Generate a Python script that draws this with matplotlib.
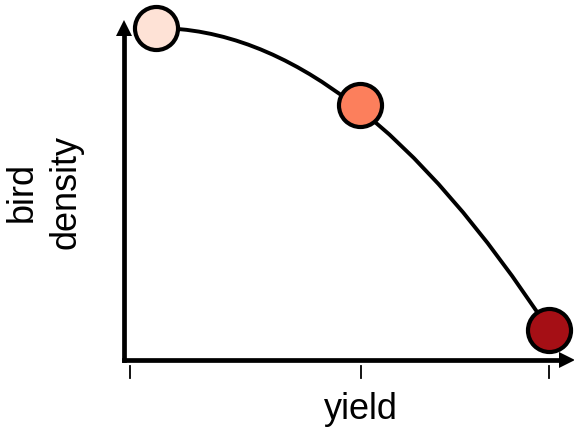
import matplotlib.pyplot as plt
from matplotlib.path import Path
from matplotlib.patches import PathPatch

# three scenarios along the frontier (yield, bird density), normalised 0..1
yield_vals = [0.0, 0.52, 1.0]
density_vals = [1.0, 0.745, 0.0]
point_colors = ['#fee2d6', '#fc7f5c', '#a50f15']
# control point of the quadratic frontier curve
ctrl = (0.5, 1.0)
tick_pos = [-0.066, 0.522, 1.0]

fig = plt.figure(figsize=(5.74, 4.31), dpi=100)
ax = fig.add_axes([0, 0, 1, 1])
# 0 -> pixel 156 / 549 in x, 1 -> pixel 29 / 331 in y
ax.set_xlim(-156 / 393, (574 - 156) / 393)
ax.set_ylim(-(431 - 331) / 302, 331 / 302)
ax.axis('off')

x0 = -32 / 393   # y axis position
y0 = -30 / 302   # x axis position

# axes with arrow heads
ax.plot([x0, x0], [y0, 1.0], color='black', lw=3.4, solid_capstyle='projecting')
ax.plot([x0, 1.03], [y0, y0], color='black', lw=3.4, solid_capstyle='projecting')
ax.plot(x0, 1.0, marker='^', color='black', ms=12, markeredgewidth=0)
ax.plot(1.045, y0, marker='>', color='black', ms=12, markeredgewidth=0)

# ticks below x axis
for t in tick_pos:
    ax.plot([t, t], [y0 - 6 / 302, y0 - 18 / 302], color='black', lw=1.3)

# frontier curve
verts = [(yield_vals[0], density_vals[0]), ctrl, (yield_vals[-1], density_vals[-1])]
path = Path(verts, [Path.MOVETO, Path.CURVE3, Path.CURVE3])
ax.add_patch(PathPatch(path, facecolor='none', edgecolor='black', lw=2.8))

for xv, yv, c in zip(yield_vals, density_vals, point_colors):
    ax.plot(xv, yv, 'o', ms=31, markerfacecolor=c, markeredgecolor='black',
            markeredgewidth=3.0, zorder=5)

ax.text(0.522, -(410 - 331) / 302, 'yield', fontsize=26, family='Liberation Sans',
        ha='center', va='center')
ax.text(-(156 - 44) / 393, (331 - 192) / 302, 'bird\ndensity', fontsize=26,
        family='Liberation Sans', rotation=90, ha='center', va='center',
        multialignment='center', linespacing=1.3)

plt.savefig('out.png', dpi=100)
